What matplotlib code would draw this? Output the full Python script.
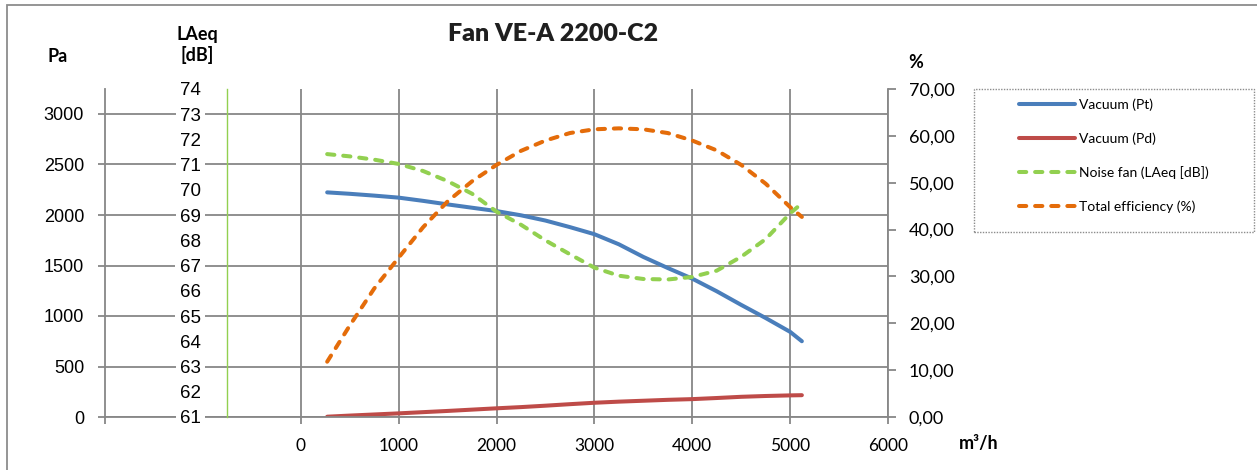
import matplotlib
matplotlib.use('Agg')
import matplotlib.pyplot as plt
from matplotlib.patches import Rectangle
from matplotlib.ticker import FuncFormatter

# airflow (m3/h)
flow = [270, 500, 750, 1000, 1250, 1500, 1750, 2000, 2250, 2500, 2750,
        3000, 3250, 3500, 3750, 4000, 4250, 4500, 4750, 5000, 5120]
# Vacuum Pt (Pa)
pt = [2224, 2210, 2192, 2172, 2140, 2105, 2072, 2039, 1997, 1945, 1880,
      1810, 1710, 1585, 1475, 1370, 1245, 1110, 980, 843, 750]
# Vacuum Pd (Pa)
pd_ = [3, 14, 25, 36, 48, 60, 73, 86, 98, 112, 127,
       141, 152, 161, 170, 177, 188, 200, 208, 214, 216]
# Noise LAeq (dB)
noise = [71.42, 71.33, 71.2, 71.03, 70.75, 70.35, 69.85, 69.14, 68.62, 68.0, 67.45,
         66.92, 66.6, 66.47, 66.45, 66.55, 66.8, 67.35, 68.05, 69.07, 69.47]
# Total efficiency (%)
eff = [11.8, 19.5, 27.4, 34.0, 40.5, 46.0, 50.3, 53.8, 56.8, 59.0, 60.6,
       61.4, 61.6, 61.4, 60.6, 59.0, 56.9, 53.8, 49.8, 44.8, 42.7]

pa_ticks = [0, 500, 1000, 1500, 2000, 2500, 3000]
db_ticks = list(range(61, 75))
pct_ticks = [0, 10, 20, 30, 40, 50, 60, 70]
x_ticks = [-2000, 0, 1000, 2000, 3000, 4000, 5000, 6000]

W, H = 1257, 470
def fx(p):
    return p / W
def fy(p):
    return 1 - p / H

BLUE = '#4A7EBB'
RED = '#BE4B48'
GREEN = '#92D050'
ORANGE = '#E46C0A'
GRID = '#878787'
CAL = 'Lato'
ARI = 'Liberation Sans'

fig = plt.figure(figsize=(W / 100, H / 100), dpi=100)
ax = fig.add_axes([fx(105), fy(417), fx(888) - fx(105), fy(89) - fy(417)])

ax.set_xlim(-2000, 6000)
ax.set_ylim(0, 3000 * 328 / 303)
ax.set_xticks(x_ticks)
ax.xaxis.set_major_formatter(FuncFormatter(lambda v, p: '' if v < 0 else f'{int(v)}'))
ax.set_yticks(pa_ticks)
ax.grid(True, color=GRID, lw=1.3)
for t, gl in zip(x_ticks, ax.get_xgridlines()):
    gl.set_visible(t >= 0)
ax.set_axisbelow(True)
for s in ['top', 'right']:
    ax.spines[s].set_visible(False)
for s in ['left', 'bottom']:
    ax.spines[s].set_color(GRID)
    ax.spines[s].set_linewidth(1.3)
ax.tick_params(axis='y', length=5, width=1.3, color=GRID, pad=10)
ax.tick_params(axis='x', length=5, width=1.3, color=GRID, pad=10)
for lab in ax.get_yticklabels():
    lab.set_fontfamily(ARI)
    lab.set_fontsize(13)
for lab in ax.get_xticklabels():
    lab.set_fontfamily(CAL)
    lab.set_fontsize(12.5)

l1, = ax.plot(flow, pt, color=BLUE, lw=2.9, solid_capstyle='round', label='Vacuum (Pt)')
l2, = ax.plot(flow, pd_, color=RED, lw=2.9, solid_capstyle='round', label='Vacuum (Pd)')

# LAeq axis
ax2 = ax.twinx()
ax2.set_ylim(61, 61 + 328 / 25.25)
ax2.set_yticks(db_ticks)
ax2.yaxis.set_ticks_position('left')
ax2.spines['left'].set_position(('axes', (227 - 105) / (888 - 105)))
ax2.spines['left'].set_visible(True)
ax2.spines['left'].set_color(GREEN)
ax2.spines['left'].set_linewidth(1.0)
for s in ['top', 'right', 'bottom']:
    ax2.spines[s].set_visible(False)
ax2.tick_params(axis='y', length=0, pad=19)
for lab in ax2.get_yticklabels():
    lab.set_fontfamily(ARI)
    lab.set_fontsize(13.5)
    lab.set_bbox(dict(facecolor='white', edgecolor='none', pad=3))
l3, = ax2.plot(flow, noise, color=GREEN, lw=2.9, linestyle=(0, (1.8, 2.2)),
               dash_capstyle='round', label='Noise fan (LAeq [dB])')

# efficiency axis
ax3 = ax.twinx()
ax3.set_ylim(0, 70)
ax3.set_yticks(pct_ticks)
ax3.yaxis.set_major_formatter(FuncFormatter(lambda v, p: f'{v:.2f}'.replace('.', ',')))
for s in ['top', 'left', 'bottom']:
    ax3.spines[s].set_visible(False)
ax3.spines['right'].set_color(GRID)
ax3.spines['right'].set_linewidth(1.3)
ax3.tick_params(axis='y', length=6, width=1.3, color=GRID, pad=9)
for lab in ax3.get_yticklabels():
    lab.set_fontfamily(CAL)
    lab.set_fontsize(13)
l4, = ax3.plot(flow, eff, color=ORANGE, lw=2.9, linestyle=(0, (1.8, 2.2)),
               dash_capstyle='round', label='Total efficiency (%)')

# text
fig.text(fx(553), fy(34), 'Fan VE-A 2200-C2', fontfamily=CAL, fontweight='heavy',
         fontsize=18, ha='center', va='center', color='#1f1f1f')
fig.text(fx(58), fy(56), 'Pa', fontfamily=CAL, fontweight='bold', fontsize=13,
         ha='center', va='center')
fig.text(fx(197), fy(45), 'LAeq\n[dB]', fontfamily=CAL, fontweight='bold', fontsize=13,
         ha='center', va='center', linespacing=1.25)
fig.text(fx(916), fy(63), '%', fontfamily=CAL, fontweight='bold', fontsize=13,
         ha='center', va='center')
fig.text(fx(979), fy(443), 'm³/h', fontfamily=CAL, fontweight='bold', fontsize=13,
         ha='center', va='center')

# legend
fig.patches.append(Rectangle((fx(974), fy(232)), fx(1254) - fx(974), fy(89) - fy(232),
                             transform=fig.transFigure, fill=False, edgecolor='#8c8c8c',
                             lw=1, linestyle=(0, (1, 1))))
leg = fig.legend([l1, l2, l3, l4], [l.get_label() for l in [l1, l2, l3, l4]],
                 loc='upper left', bbox_to_anchor=(fx(1019), fy(98)), frameon=False,
                 borderpad=0, borderaxespad=0, handlelength=4.0, handletextpad=0.3,
                 labelspacing=1.55, prop={'family': CAL, 'size': 10})

# outer chart border
fig.patches.append(Rectangle((fx(7), -0.1), 1.2, fy(5) + 0.1, transform=fig.transFigure,
                             fill=False, edgecolor='#8c8c8c', lw=1.3))

fig.savefig('out.png', dpi=100)
